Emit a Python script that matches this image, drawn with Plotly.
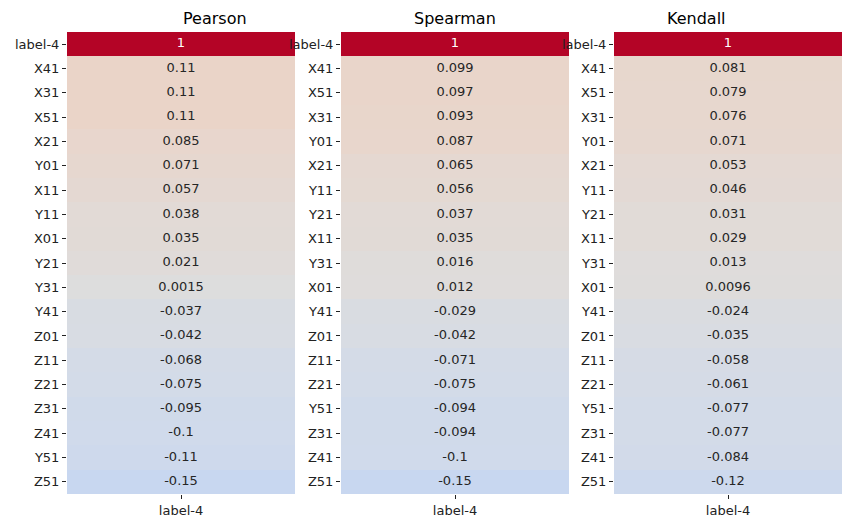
import plotly.graph_objects as go

# correlation of each feature with label-4, already sorted per method
pearson_names = ["label-4", "X41", "X31", "X51", "X21", "Y01", "X11", "Y11", "X01", "Y21",
                 "Y31", "Y41", "Z01", "Z11", "Z21", "Z31", "Z41", "Y51", "Z51"]
pearson_vals = [1, 0.11, 0.11, 0.11, 0.085, 0.071, 0.057, 0.038, 0.035, 0.021,
                0.0015, -0.037, -0.042, -0.068, -0.075, -0.095, -0.1, -0.11, -0.15]

spearman_names = ["label-4", "X41", "X51", "X31", "Y01", "X21", "Y11", "Y21", "X11", "Y31",
                  "X01", "Y41", "Z01", "Z11", "Z21", "Y51", "Z31", "Z41", "Z51"]
spearman_vals = [1, 0.099, 0.097, 0.093, 0.087, 0.065, 0.056, 0.037, 0.035, 0.016,
                 0.012, -0.029, -0.042, -0.071, -0.075, -0.094, -0.094, -0.1, -0.15]

kendall_names = ["label-4", "X41", "X51", "X31", "Y01", "X21", "Y11", "Y21", "X11", "Y31",
                 "X01", "Y41", "Z01", "Z11", "Z21", "Y51", "Z31", "Z41", "Z51"]
kendall_vals = [1, 0.081, 0.079, 0.076, 0.071, 0.053, 0.046, 0.031, 0.029, 0.013,
                0.0096, -0.024, -0.035, -0.058, -0.061, -0.077, -0.077, -0.084, -0.12]

titles = ["Pearson", "Spearman", "Kendall"]
target = "label-4"

# matplotlib coolwarm
coolwarm_rgb = [(59, 76, 192), (68, 90, 204), (77, 104, 215), (87, 117, 225), (98, 130, 234),
                (108, 142, 241), (119, 154, 247), (130, 165, 251), (141, 176, 254), (152, 185, 255),
                (163, 194, 255), (174, 201, 253), (184, 208, 249), (194, 213, 244), (204, 217, 238),
                (213, 219, 230), (221, 221, 221), (229, 216, 209), (236, 211, 197), (241, 204, 184),
                (245, 196, 172), (247, 187, 160), (247, 177, 148), (247, 166, 135), (244, 154, 123),
                (241, 141, 111), (236, 127, 99), (229, 112, 88), (222, 96, 77), (213, 80, 66),
                (203, 62, 56), (192, 40, 47), (180, 4, 38)]
n = len(coolwarm_rgb) - 1
coolwarm = [[i / n, "rgb(%d,%d,%d)" % c] for i, c in enumerate(coolwarm_rgb)]

FONT = "DejaVu Sans"
W, H = 844, 520  # page body has an 8px margin
x_domains = [(59 / W, 287 / W), (333 / W, 561 / W), (606 / W, 834 / W)]
y_domain = (34 / H, 496 / H)

fig = go.Figure()
panels = [(pearson_names, pearson_vals), (spearman_names, spearman_vals), (kendall_names, kendall_vals)]

for i, (names, vals) in enumerate(panels):
    sfx = "" if i == 0 else str(i + 1)
    fig.add_trace(go.Heatmap(
        x=[target] * len(names), y=names, z=vals,
        colorscale=coolwarm, zmin=-1, zmax=1, showscale=False,
        xaxis="x" + sfx, yaxis="y" + sfx, hoverinfo="skip",
    ))
    fig.add_trace(go.Scatter(
        x=[target] * len(names), y=names, mode="text",
        text=[f"{v:.2g}" for v in vals],
        textfont=dict(family=FONT, size=13,
                      color=["white" if v > 0.6 else "#262626" for v in vals]),
        xaxis="x" + sfx, yaxis="y" + sfx, hoverinfo="skip", showlegend=False,
    ))
    fig.update_layout({
        "xaxis" + sfx: dict(domain=x_domains[i], anchor="y" + sfx, ticks="outside", ticklen=4,
                            tickcolor="#222", showgrid=False, zeroline=False, showline=False,
                            type="category", range=[-0.5, 0.5], automargin=False,
                            tickfont=dict(family=FONT, size=13, color="#222")),
        "yaxis" + sfx: dict(domain=y_domain, anchor="x" + sfx, range=[len(names) - 0.5, -0.5],
                            type="category", ticks="outside", ticklen=4, tickcolor="#222",
                            showgrid=False, zeroline=False, showline=False, automargin=False,
                            tickfont=dict(family=FONT, size=13, color="#222")),
    })
    fig.add_annotation(text=titles[i], x=sum(x_domains[i]) / 2, y=y_domain[1], xref="paper",
                       yref="paper", yanchor="bottom", showarrow=False, yshift=2,
                       font=dict(family=FONT, size=16, color="black"))

fig.update_layout(width=W, height=H, margin=dict(l=0, r=0, t=0, b=0),
                  paper_bgcolor="white", plot_bgcolor="white", showlegend=False)

fig.write_html("out.html")
